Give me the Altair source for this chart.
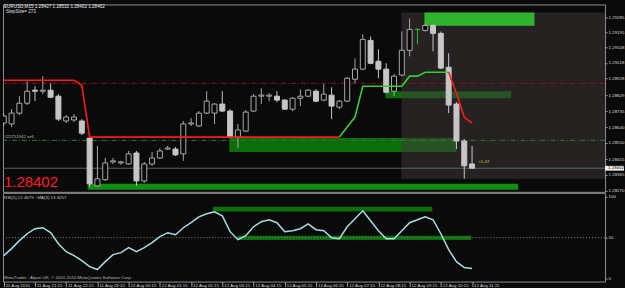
import json
import altair as alt
import pandas as pd

# ---------------- data (EURUSD M15, bar 0 = 11 Aug 2010 20:15) ----------------
bars = list(range(61))
bar_open = [1.28666, 1.28661, 1.28724, 1.28782, 1.28858, 1.28852, 1.28858, 1.28823, 1.28678, 1.28684,
            1.28678, 1.28578, 1.28299, 1.28335, 1.28439, 1.28433, 1.28427, 1.28491, 1.28328, 1.28427,
            1.28462, 1.28514, 1.28514, 1.28486, 1.28661, 1.28649, 1.28724, 1.28724, 1.28777, 1.28736,
            1.28584, 1.28619, 1.28736, 1.28823, 1.28823, 1.28823, 1.28800, 1.28747, 1.28811, 1.28823,
            1.28852, 1.28800, 1.28829, 1.28759, 1.28794, 1.28922, 1.28981, 1.29149, 1.29027, 1.28981,
            1.28852, 1.28946, 1.29091, 1.29213, 1.29207, 1.29236, 1.29190, 1.28992, 1.28777, 1.28561,
            1.28427]
bar_high = [1.28724, 1.28747, 1.28823, 1.28910, 1.28881, 1.28940, 1.28898, 1.28835, 1.28713, 1.28719,
            1.28689, 1.28602, 1.28532, 1.28462, 1.28462, 1.28445, 1.28503, 1.28503, 1.28439, 1.28497,
            1.28520, 1.28532, 1.28526, 1.28678, 1.28695, 1.28736, 1.28852, 1.28782, 1.28852, 1.28747,
            1.28661, 1.28742, 1.28835, 1.28869, 1.28840, 1.28852, 1.28806, 1.28817, 1.28863, 1.28863,
            1.28863, 1.28893, 1.28875, 1.28800, 1.28934, 1.29044, 1.29184, 1.29172, 1.29097, 1.29015,
            1.28952, 1.29201, 1.29277, 1.29219, 1.29248, 1.29242, 1.29201, 1.29073, 1.28788, 1.28573,
            1.28532]
bar_low = [1.28649, 1.28643, 1.28713, 1.28771, 1.28794, 1.28835, 1.28811, 1.28678, 1.28666, 1.28672,
           1.28596, 1.28293, 1.28293, 1.28328, 1.28427, 1.28422, 1.28422, 1.28299, 1.28316, 1.28416,
           1.28456, 1.28509, 1.28474, 1.28445, 1.28649, 1.28643, 1.28719, 1.28661, 1.28730, 1.28578,
           1.28520, 1.28613, 1.28730, 1.28777, 1.28794, 1.28788, 1.28742, 1.28736, 1.28765, 1.28817,
           1.28788, 1.28794, 1.28689, 1.28747, 1.28788, 1.28898, 1.28975, 1.29010, 1.28928, 1.28840,
           1.28823, 1.28940, 1.29056, 1.29126, 1.29201, 1.29085, 1.28981, 1.28724, 1.28514, 1.28340,
           1.28402]
bar_close = [1.28707, 1.28724, 1.28782, 1.28852, 1.28852, 1.28858, 1.28817, 1.28689, 1.28701, 1.28701,
             1.28607, 1.28311, 1.28340, 1.28433, 1.28445, 1.28439, 1.28486, 1.28328, 1.28427, 1.28462,
             1.28503, 1.28520, 1.28480, 1.28661, 1.28666, 1.28724, 1.28794, 1.28777, 1.28736, 1.28584,
             1.28626, 1.28730, 1.28823, 1.28829, 1.28829, 1.28800, 1.28747, 1.28811, 1.28823, 1.28858,
             1.28794, 1.28835, 1.28765, 1.28794, 1.28928, 1.28981, 1.29155, 1.29015, 1.28981, 1.28846,
             1.28940, 1.29091, 1.29213, 1.29213, 1.29236, 1.29190, 1.28987, 1.28771, 1.28561, 1.28416,
             1.28402]

rsi_values = [28.2, 36.7, 46.4, 54.8, 60.9, 62.1, 56.1, 42.7, 33.0, 28.2,
              22.2, 14.9, 11.3, 20.9, 29.4, 31.8, 37.9, 33.0, 37.9, 43.9,
              51.2, 56.1, 53.6, 62.1, 68.2, 75.4, 79.1, 81.5, 76.6, 57.3,
              47.6, 52.4, 63.3, 69.4, 71.8, 68.2, 57.3, 58.5, 60.9, 66.9,
              59.7, 58.5, 50.0, 48.8, 63.3, 73.0, 82.7, 70.6, 58.5, 48.8,
              48.8, 58.5, 68.2, 71.8, 75.4, 71.8, 54.8, 35.5, 20.9, 13.7, 12.47]

# step-trend line: red segment bars 0..43, green 43..57, red 57..60
st_red_a = [1.28916, 1.28916, 1.28916, 1.28916, 1.28916, 1.28916, 1.28916, 1.28916, 1.28916, 1.28916,
            1.28887, 1.28584, 1.28584, 1.28584, 1.28584, 1.28584, 1.28584, 1.28584, 1.28584, 1.28584,
            1.28584, 1.28584, 1.28584, 1.28584, 1.28584, 1.28584, 1.28584, 1.28584, 1.28584, 1.28584,
            1.28584, 1.28584, 1.28584, 1.28584, 1.28584, 1.28584, 1.28584, 1.28584, 1.28584, 1.28584,
            1.28584, 1.28584, 1.28584, 1.28584]
st_green = [1.28584, 1.28643, 1.28701, 1.28881, 1.28881, 1.28881, 1.28881, 1.28881, 1.28881,
            1.28940, 1.28940, 1.28963, 1.28963, 1.28963, 1.28963]
st_red_b = [1.28963, 1.28840, 1.28701, 1.28666]

# zones (bar-index span, price span)
zone_x1 = [28.9, 48.9]
zone_x2 = [58.0, 65.0]
zone_lo = [1.28497, 1.28811]
zone_hi = [1.28578, 1.28852]
base_zone = {"x1": 10.75, "x2": 65.9, "lo": 1.28276, "hi": 1.28311}
top_zone = {"x1": 53.9, "x2": 68.0, "lo": 1.29235, "hi": 1.29312}
shade_box = {"x1": 50.95, "x2": 77.04, "lo": 1.28340, "hi": 1.29312}

level_red = 1.28898
level_green = 1.28565
last_price = 1.28402

rsi_band_x1 = [26.8, 29.9]
rsi_band_x2 = [54.9, 59.9]
rsi_band_lo = [81.8, 47.2]
rsi_band_hi = [87.5, 52.4]
rsi_level = 50

price_ticks = [1.29285, 1.29195, 1.29108, 1.29018, 1.28928, 1.28829, 1.28735,
               1.28640, 1.28550, 1.28455, 1.28365, 1.28270]
rsi_ticks = [0, 50, 100]
time_ticks = [0, 4, 8, 12, 16, 20, 24, 28, 32, 36, 40, 44, 48, 52, 56, 60]
time_labels = ["11 Aug 2010", "11 Aug 21:15", "11 Aug 22:15", "11 Aug 23:15",
               "12 Aug 00:15", "12 Aug 01:15", "12 Aug 02:15", "12 Aug 03:15",
               "12 Aug 04:15", "12 Aug 05:15", "12 Aug 06:15", "12 Aug 07:15",
               "12 Aug 08:15", "12 Aug 09:15", "12 Aug 10:15", "12 Aug 11:15"]

title_text = "EURUSD,M15  1.28427 1.28532 1.28402 1.28402"
step_text = "StepSize= 273"
order_text = "#22751942 sell"
timer_text = "<1:47"
rsi_text = "RSI(5) 12.4679  ~MA(3) 13.3257"
copy_text = "MetaTrader - Alpari UK, \u00a9 2001-2010 MetaQuotes Software Corp."

# ---------------- frames ----------------
candles = pd.DataFrame({"i": bars, "open": bar_open, "high": bar_high,
                        "low": bar_low, "close": bar_close})
st_df = pd.DataFrame({
    "i": list(range(0, 44)) + list(range(43, 58)) + list(range(57, 61)),
    "v": st_red_a + st_green + st_red_b,
    "seg": ["a"] * 44 + ["g"] * 15 + ["b"] * 4,
})
zones_df = pd.DataFrame({"x1": zone_x1, "x2": zone_x2, "lo": zone_lo, "hi": zone_hi})
rsi_df = pd.DataFrame({"i": bars, "rsi": rsi_values})
bands_df = pd.DataFrame({"x1": rsi_band_x1, "x2": rsi_band_x2, "lo": rsi_band_lo, "hi": rsi_band_hi})

FONT = "Liberation Sans"
BG = "#0a0a0a"
XS = alt.Scale(domain=[-0.1, 77.04], nice=False, zero=False)
YS = alt.Scale(domain=[1.28264, 1.29359], nice=False, zero=False)
RS = alt.Scale(domain=[-3.3, 104.5], nice=False, zero=False)

y_axis = alt.Axis(values=price_ticks, format=".5f", orient="right", title=None,
                  labelFont=FONT, labelFontSize=4.4, labelColor="#d8d8d8",
                  tickColor="#a0a0a0", tickSize=2, labelPadding=1, domain=False,
                  grid=False, labelFlush=False, labelOverlap=False)
r_axis = alt.Axis(values=rsi_ticks, format="d", orient="right", title=None,
                  labelFont=FONT, labelFontSize=4.4, labelColor="#d8d8d8",
                  tickColor="#a0a0a0", tickSize=2, labelPadding=1, domain=False,
                  grid=False, labelFlush=False, labelOverlap=False)
x_axis = alt.Axis(values=time_ticks, orient="bottom", title=None,
                  labelExpr=json.dumps(time_labels) + "[round(datum.value/4)]",
                  labelFont=FONT, labelFontSize=4.4, labelColor="#d0d0d0",
                  labelAlign="left", labelBaseline="top", labelOffset=1.5,
                  labelPadding=-3.5, tickColor="#a0a0a0", tickSize=5,
                  domain=False, grid=False, labelFlush=False, labelOverlap=False)


def X(f):
    return alt.X(f, type="quantitative", scale=XS, axis=None)


def Y(f):
    return alt.Y(f, type="quantitative", scale=YS, axis=y_axis)


def RX(f):
    return alt.X(f, type="quantitative", scale=XS, axis=x_axis)


def RY(f):
    return alt.Y(f, type="quantitative", scale=RS, axis=r_axis)


def one(d):
    return pd.DataFrame({k: [v] for k, v in d.items()})


# ---------------- main panel ----------------
zones = alt.Chart(zones_df).mark_rect(clip=True, color="#0b6e0b").encode(
    x=X("x1"), x2="x2", y=Y("lo"), y2="hi")
base = alt.Chart(one(base_zone)).mark_rect(clip=True, color="#0f8f0f").encode(
    x=X("x1"), x2="x2", y=Y("lo"), y2="hi")
shade = alt.Chart(one(shade_box)).mark_rect(clip=True, color="#413a3a", opacity=0.52).encode(
    x=X("x1"), x2="x2", y=Y("lo"), y2="hi")
topz = alt.Chart(one(top_zone)).mark_rect(clip=True, color="#30b430").encode(
    x=X("x1"), x2="x2", y=Y("lo"), y2="hi")

rule_red = alt.Chart(one({"y": level_red})).mark_rule(
    color="#8c1818", strokeDash=[5, 2, 1, 2], strokeWidth=1).encode(y=Y("y"))
rule_green = alt.Chart(one({"y": level_green})).mark_rule(
    color="#2b7d2b", strokeDash=[5, 2, 1, 2], strokeWidth=1).encode(y=Y("y"))
rule_last = alt.Chart(one({"y": last_price})).mark_rule(
    color="#56666d", strokeWidth=1).encode(y=Y("y"))

kind_expr = "datum.close > datum.open ? 'up' : (datum.close < datum.open ? 'down' : 'flat')"
stroke_scale = alt.Scale(domain=["up", "down", "flat"], range=["#a8a8a8", "#c6c6c6", "#22c022"])
fill_scale = alt.Scale(domain=["up", "down", "flat"], range=[BG, "#c6c6c6", "#22c022"])

wicks = alt.Chart(candles).transform_calculate(kind=kind_expr).mark_rule(
    clip=True, strokeWidth=1).encode(
    x=X("i"), y=Y("low"), y2="high",
    stroke=alt.Stroke("kind:N", scale=stroke_scale, legend=None))
bodies = alt.Chart(candles).transform_calculate(
    kind=kind_expr, xl="datum.i - 0.32", xr="datum.i + 0.32").mark_rect(
    clip=True, strokeWidth=1).encode(
    x=X("xl"), x2="xr", y=Y("open"), y2="close",
    fill=alt.Fill("kind:N", scale=fill_scale, legend=None),
    stroke=alt.Stroke("kind:N", scale=stroke_scale, legend=None))

st_lines = alt.Chart(st_df).mark_line(clip=True, strokeWidth=1.6).encode(
    x=X("i"), y=Y("v"),
    color=alt.Color("seg:N", scale=alt.Scale(domain=["a", "g", "b"],
                                             range=["#ff1a1a", "#35cc35", "#ff1a1a"]),
                    legend=None))


def label(text, x, y, size, color, weight="normal"):
    return alt.Chart(one({"t": text})).mark_text(
        align="left", baseline="middle", font=FONT, fontSize=size,
        color=color, fontWeight=weight).encode(
        x=alt.value(x), y=alt.value(y), text="t:N")


t_title = label(title_text, 1, 3, 4.6, "#e8e8e8")
t_step = label(step_text, 3, 7.5, 4.6, "#e0e0e0")
t_big = label("%.5f" % last_price, 1, 178.5, 15, "#ff1a1a")
t_order = alt.Chart(one({"t": order_text, "y": level_green})).mark_text(
    align="left", baseline="middle", font=FONT, fontSize=4.4, color="#b8b8b8", dy=-3).encode(
    x=alt.value(1), y=Y("y"), text="t:N")
t_timer = alt.Chart(one({"t": timer_text, "i": 60.8, "y": last_price})).mark_text(
    align="left", baseline="middle", font=FONT, fontSize=4.4, color="#cfcf2a", dy=-6).encode(
    x=X("i"), y=Y("y"), text="t:N")

pbox = alt.Chart(one({"p": last_price})).transform_calculate(
    lo="datum.p - 0.00014", hi="datum.p + 0.00014").mark_rect(color="#f2f2f2").encode(
    x=alt.value(604), x2=alt.value(623), y=Y("lo"), y2="hi")
ptext = alt.Chart(one({"p": last_price})).mark_text(
    align="left", baseline="middle", font=FONT, fontSize=4.4, color="#000000").encode(
    x=alt.value(607), y=Y("p"), text=alt.Text("p:Q", format=".5f"))

main = alt.layer(zones, base, shade, topz, rule_red, rule_green, rule_last,
                 wicks, bodies, st_lines, t_title, t_step, t_big, t_order, t_timer,
                 pbox, ptext).properties(width=604, height=188)

# ---------------- RSI panel ----------------
bands = alt.Chart(bands_df).mark_rect(clip=True, color="#0a6e0a").encode(
    x=RX("x1"), x2="x2", y=RY("lo"), y2="hi")
lvl = alt.Chart(one({"v": rsi_level})).mark_rule(
    color="#8a8a8a", strokeDash=[1, 2], strokeWidth=1).encode(y=RY("v"))
rsi_line = alt.Chart(rsi_df).mark_line(clip=True, color="#a8dde4", strokeWidth=1.5).encode(
    x=RX("i"), y=RY("rsi"))
t_rsi = label(rsi_text, 1, 4.7, 4.4, "#c8c8c8")
t_copy = label(copy_text, 1, 85, 4.4, "#b8b8b8")

rsi = alt.layer(bands, lvl, rsi_line, t_rsi, t_copy).properties(width=604, height=89)

chart = alt.vconcat(main, rsi, spacing=1, bounds="flush").properties(
    padding={"left": 2, "top": 3, "right": 0, "bottom": 0},
    background=BG,
).configure_view(stroke="#8f8f8f", strokeWidth=1)

chart.save("out.html", embed_options={"renderer": "svg", "actions": False})
